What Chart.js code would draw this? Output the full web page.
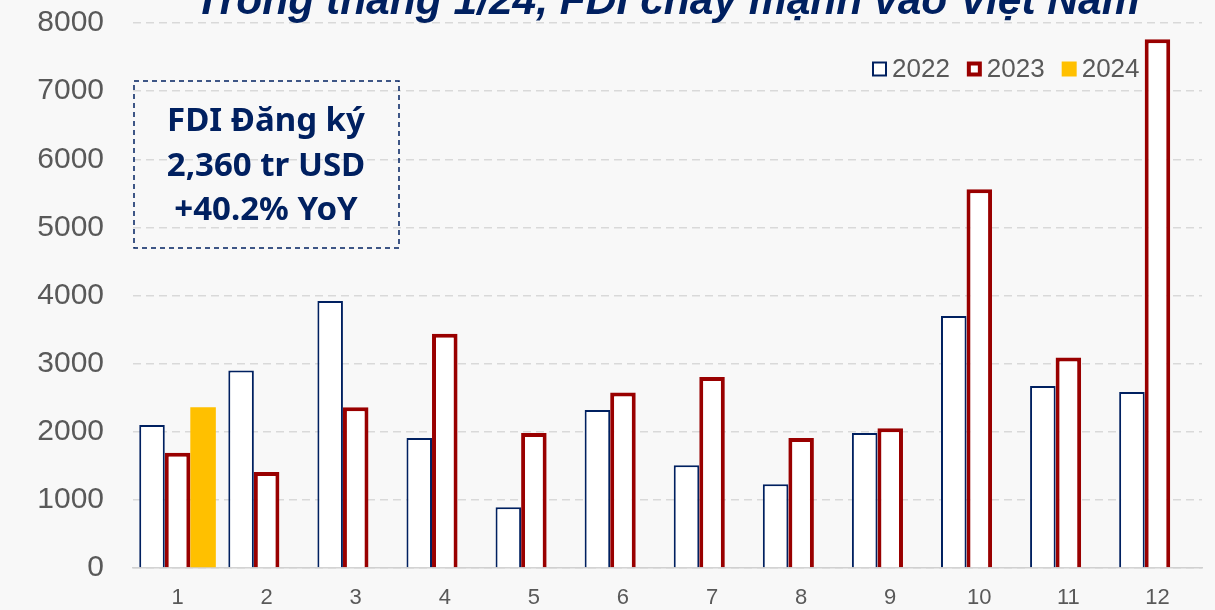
<!DOCTYPE html>
<html>
<head>
<meta charset="utf-8">
<script src="https://cdn.jsdelivr.net/npm/chart.js@4.4.1/dist/chart.umd.min.js"></script>
<style>
  html, body { margin: 0; padding: 0; background: #f8f8f8; }
  #wrap { width: 1215px; height: 610px; position: relative; }
</style>
</head>
<body>
<div id="wrap"><canvas id="fdiChart" width="1215" height="610"></canvas></div>
<script>
const months = ['1', '2', '3', '4', '5', '6', '7', '8', '9', '10', '11', '12'];
const fdi2022 = [2100, 2900, 3920, 1910, 890, 2320, 1510, 1230, 1980, 3700, 2670, 2585];
const fdi2023 = [1690, 1410, 2360, 3440, 1980, 2575, 2805, 1910, 2050, 5560, 3090, 7760];
const fdi2024 = [2360, null, null, null, null, null, null, null, null, null, null, null];
const yTicks = [0, 1000, 2000, 3000, 4000, 5000, 6000, 7000, 8000];

const titleText = 'Trong tháng 1/24, FDI chảy mạnh vào Việt Nam';
const noteLines = ['FDI Đăng ký', '2,360 tr USD', '+40.2% YoY'];

const navy = '#002060';
const darkRed = '#990000';
const gold = '#FFC000';
const grey = '#595959';

// title, note box and legend drawn on top of the chart
const overlay = {
    id: 'overlay',
    afterDraw(chart) {
        const ctx = chart.ctx;
        const area = chart.chartArea;
        ctx.save();

        // title (cut off at the top like the source)
        ctx.fillStyle = navy;
        ctx.font = 'italic bold 43px "Liberation Sans", Arial, sans-serif';
        ctx.textAlign = 'center';
        ctx.textBaseline = 'alphabetic';
        ctx.fillText(titleText, 667, 14, 945);

        // dashed note box
        ctx.setLineDash([5, 4]);
        ctx.strokeStyle = navy;
        ctx.lineWidth = 1.5;
        ctx.strokeRect(area.left + 1, 81, 265, 167);
        ctx.setLineDash([]);
        ctx.font = 'bold 33px "Noto Sans", "Open Sans", sans-serif';
        ctx.textBaseline = 'middle';
        noteLines.forEach((line, i) => {
            ctx.fillText(line, area.left + 133, 122 + i * 44.5);
        });

        // legend
        ctx.textAlign = 'left';
        ctx.font = '26px "Liberation Sans", Arial, sans-serif';
        let x = 872;
        const y = 69;
        chart.data.datasets.forEach(ds => {
            if (ds.backgroundColor === gold) {
                ctx.fillStyle = gold;
                ctx.fillRect(x, y - 7.5, 15, 15);
            } else {
                ctx.fillStyle = '#ffffff';
                ctx.fillRect(x, y - 7.5, 15, 15);
                ctx.strokeStyle = ds.borderColor;
                ctx.lineWidth = ds.borderWidth;
                const h = ds.borderWidth / 2;
                ctx.strokeRect(x + h, y - 7.5 + h, 15 - ds.borderWidth, 15 - ds.borderWidth);
            }
            ctx.fillStyle = grey;
            ctx.fillText(ds.label, x + 20, y + 1);
            x += 20 + ctx.measureText(ds.label).width + 17;
        });

        ctx.restore();
    }
};

const ctx = document.getElementById('fdiChart').getContext('2d');
new Chart(ctx, {
    type: 'bar',
    data: {
        labels: months,
        datasets: [
            {
                label: '2022',
                data: fdi2022,
                backgroundColor: '#ffffff',
                borderColor: navy,
                borderWidth: 2
            },
            {
                label: '2023',
                data: fdi2023,
                backgroundColor: '#ffffff',
                borderColor: darkRed,
                borderWidth: 4
            },
            {
                label: '2024',
                data: fdi2024,
                backgroundColor: gold,
                borderWidth: 0
            }
        ]
    },
    options: {
        responsive: false,
        animation: false,
        layout: { padding: { top: 23, right: 13, left: 0, bottom: 0 } },
        datasets: {
            bar: { categoryPercentage: 0.86, barPercentage: 1.0 }
        },
        scales: {
            x: {
                grid: { display: false, drawTicks: false },
                border: { display: true, color: '#d0d0d0', width: 1.5 },
                ticks: {
                    color: grey,
                    font: { family: '"Liberation Sans", Arial, sans-serif', size: 22 },
                    padding: 17
                },
                afterFit(scale) { scale.height = 42; }
            },
            y: {
                min: 0,
                max: 8000,
                afterBuildTicks(scale) {
                    scale.ticks = yTicks.map(v => ({ value: v }));
                },
                grid: {
                    color: '#d9d9d9',
                    lineWidth: 1.5,
                    drawTicks: true,
                    tickLength: 29,
                    tickColor: 'rgba(0,0,0,0)'
                },
                border: { display: false, dash: [8, 5] },
                ticks: {
                    color: grey,
                    font: { family: '"Liberation Sans", Arial, sans-serif', size: 30 },
                    padding: 0,
                    callback: v => String(v)
                },
                afterFit(scale) { scale.width = 133; }
            }
        },
        plugins: {
            legend: { display: false },
            tooltip: { enabled: false }
        }
    },
    plugins: [overlay]
});
</script>
</body>
</html>
